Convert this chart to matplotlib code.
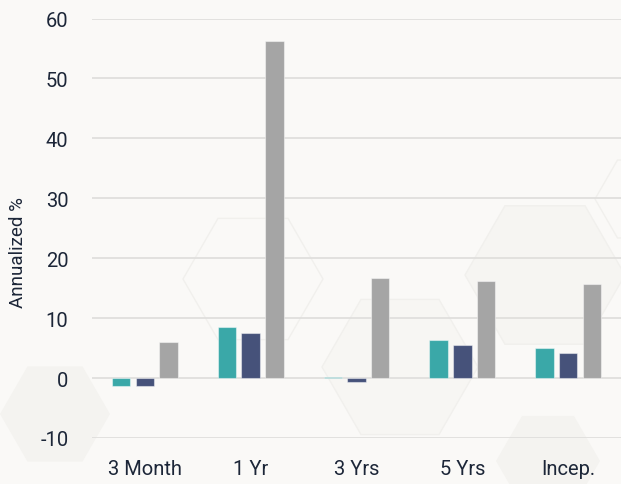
import numpy as np
import matplotlib
matplotlib.use("Agg")
import matplotlib.pyplot as plt
from matplotlib.patches import Polygon

# --- data ---
categories = ["3 Month", "1 Yr", "3 Yrs", "5 Yrs", "Incep."]
series_teal = [-1.3, 8.45, 0.2, 6.4, 5.05]
series_navy = [-1.4, 7.55, -0.6, 5.6, 4.2]
series_gray = [6.1, 56.3, 16.7, 16.2, 15.7]
y_ticks = [-10, 0, 10, 20, 30, 40, 50, 60]

W, H = 621, 485
BG = "#faf9f7"
TXT = "#1c2638"

plt.rcParams.update({
    "font.family": ["Roboto", "DejaVu Sans"],
})

fig = plt.figure(figsize=(W / 100, H / 100), dpi=100, facecolor=BG)

# faint background hexagons (decorative), given in pixel coords
def hexagon(cx, cy, r, fill, edge):
    ang = np.deg2rad(np.arange(0, 360, 60))
    xs = (cx + r * np.cos(ang)) / W
    ys = 1 - (cy + r * np.sin(ang)) / H
    fig.patches.append(Polygon(np.column_stack([xs, ys]), closed=True,
                               transform=fig.transFigure, facecolor=fill,
                               edgecolor=edge, linewidth=1.0, zorder=-5))

hexagon(253, 280, 70, "none", "#f1f0ed")
hexagon(55, 415, 55, "#f4f3f0", "none")
hexagon(400, 368, 78, "#f7f6f3", "#f1f0ed")
hexagon(545, 276, 80, "#f6f5f2", "#f1f0ed")
hexagon(548, 462, 52, "#f4f3f0", "none")
hexagon(640, 200, 45, "none", "#f1f0ed")

ax = fig.add_axes([92 / W, 1 - 439 / H, 1 - 92 / W, (439 - 19.5) / H])
ax.set_facecolor("none")
ax.set_zorder(1)

x = np.arange(len(categories))
bw = 0.175
off = 0.224
edge = (1, 1, 1, 0.45)
ax.bar(x - off, series_teal, bw, color="#3aa8a8", edgecolor=edge, linewidth=0.8, zorder=3)
ax.bar(x, series_navy, bw, color="#46527a", edgecolor=edge, linewidth=0.8, zorder=3)
ax.bar(x + off, series_gray, bw, color="#a5a5a5", edgecolor=edge, linewidth=0.8, zorder=3)

ax.set_xlim(-0.5, len(categories) - 0.5)
ax.set_ylim(-10, 60)
ax.set_yticks(y_ticks)
ax.set_yticklabels([str(t) for t in y_ticks])
ax.set_xticks(x)
ax.set_xticklabels(categories)

ax.grid(axis="y", color="#dedddb", linewidth=1.2, zorder=1)
ax.set_axisbelow(True)
for s in ax.spines.values():
    s.set_visible(False)
ax.tick_params(axis="both", length=0, colors=TXT, labelsize=14.5)
ax.tick_params(axis="y", pad=17)
ax.tick_params(axis="x", pad=15)

fig.text(18 / W, 1 - 253 / H, "Annualized %", rotation=90, ha="center",
         va="center", fontsize=13.5, color=TXT)

fig.savefig("out.png", dpi=100, facecolor=BG)
